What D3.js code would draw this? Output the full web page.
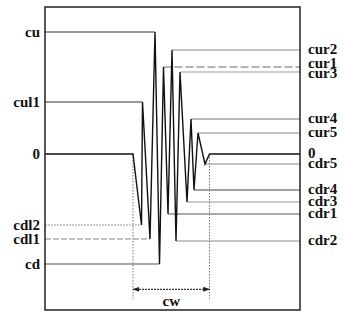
<!DOCTYPE html>
<html>
<head>
<meta charset="utf-8">
<script src="https://cdn.jsdelivr.net/npm/d3@7"></script>
<style>
  html, body { margin: 0; padding: 0; background: #fff; }
  svg { display: block; }
</style>
</head>
<body>
<svg id="chart" width="344" height="313"></svg>
<script>
// ---- data (arbitrary amplitude / time units) ----
const leftLabels  = ["cu", "cul1", "0", "cdl2", "cdl1", "cd"];
const leftValues  = [122, 52, 0, -71, -85, -110];
const rightLabels = ["cur2", "cur1", "cur3", "cur4", "cur5", "0", "cdr5", "cdr4", "cdr3", "cdr1", "cdr2"];
const rightValues = [104, 87, 82, 35, 21, 0, -10, -36, -48, -60, -87];
const waveTimes   = [0, 88, 96.5, 97.5, 105, 110, 114.5, 118.5, 123, 127, 131, 135, 142, 146, 149, 153, 160, 164.5, 255];
const waveValues  = [0, 0, -71, 52, -85, 122, -110, 87, -60, 104, -87, 82, -48, 35, -36, 21, -10, 0, 0];
const spanLabel   = "cw";

// ---- layout ----
const svg = d3.select("#chart");
const frame = { left: 45, right: 300, top: 7, bottom: 310 };
const x = d3.scaleLinear().domain([0, 255]).range([frame.left, frame.right]);
const y = d3.scaleLinear().domain([-150, 150]).range([304, 4]);
const font = "'Liberation Serif', 'Times New Roman', serif";

const styleOf = {
  "cu":   { c: "#333", d: null },
  "cul1": { c: "#333", d: null },
  "cdl2": { c: "#999", d: "2,1" },
  "cdl1": { c: "#888", d: "6,2" },
  "cd":   { c: "#555", d: null },
  "cur2": { c: "#888", d: null },
  "cur1": { c: "#666", d: "8,3" },
  "cur3": { c: "#999", d: null },
  "cur4": { c: "#777", d: null },
  "cur5": { c: "#888", d: null },
  "cdr5": { c: "#888", d: null },
  "cdr4": { c: "#444", d: null },
  "cdr3": { c: "#999", d: null },
  "cdr1": { c: "#555", d: null },
  "cdr2": { c: "#888", d: null }
};

// time where the wave reaches a level
function peakTime(v, fromRight) {
  const idx = d3.range(waveValues.length).filter(i => waveValues[i] === v);
  return waveTimes[fromRight ? idx[idx.length - 1] : idx[0]];
}

// reference lines (left levels: from frame to peak)
leftLabels.forEach((lab, i) => {
  if (lab === "0") return;
  const v = leftValues[i], t = peakTime(v, false), s = styleOf[lab];
  svg.append("line")
    .attr("x1", x(0)).attr("x2", x(t))
    .attr("y1", y(v)).attr("y2", y(v))
    .attr("stroke", s.c).attr("stroke-width", 1)
    .attr("stroke-dasharray", s.d);
});
// right levels: from peak to frame
rightLabels.forEach((lab, i) => {
  if (lab === "0") return;
  const v = rightValues[i], t = peakTime(v, true), s = styleOf[lab];
  svg.append("line")
    .attr("x1", x(t)).attr("x2", x(255))
    .attr("y1", y(v)).attr("y2", y(v))
    .attr("stroke", s.c).attr("stroke-width", 1)
    .attr("stroke-dasharray", s.d);
});

// vertical dotted markers and the span arrow
const tStart = waveTimes[1], tEnd = waveTimes[waveTimes.length - 2];
[tStart, tEnd].forEach(t => {
  svg.append("line")
    .attr("x1", x(t)).attr("x2", x(t))
    .attr("y1", y(0)).attr("y2", y(-145))
    .attr("stroke", "#777").attr("stroke-width", 1)
    .attr("stroke-dasharray", "1.5,1.5");
});

const defs = svg.append("defs");
defs.append("marker").attr("id", "arr")
  .attr("viewBox", "0 0 10 10").attr("refX", 9).attr("refY", 5)
  .attr("markerWidth", 7).attr("markerHeight", 7)
  .attr("markerUnits", "userSpaceOnUse")
  .attr("orient", "auto-start-reverse")
  .append("path").attr("d", "M0,1.5 L10,5 L0,8.5 Z").attr("fill", "#222");

const arrowY = y(-135.3);
svg.append("line")
  .attr("x1", x(tStart)).attr("x2", x(tEnd))
  .attr("y1", arrowY).attr("y2", arrowY)
  .attr("stroke", "#333").attr("stroke-width", 1.2)
  .attr("stroke-dasharray", "2,1")
  .attr("marker-start", "url(#arr)").attr("marker-end", "url(#arr)");

svg.append("text")
  .attr("x", (x(tStart) + x(tEnd)) / 2).attr("y", arrowY + 11.5)
  .attr("text-anchor", "middle").attr("dominant-baseline", "central")
  .attr("font-family", font).attr("font-weight", "bold").attr("font-size", 15)
  .attr("fill", "#111").text(spanLabel);

// waveform
svg.append("path")
  .datum(d3.zip(waveTimes, waveValues))
  .attr("d", d3.line().x(d => x(d[0])).y(d => y(d[1])))
  .attr("fill", "none").attr("stroke", "#111").attr("stroke-width", 1.4)
  .attr("stroke-linejoin", "miter");

// frame
svg.append("rect")
  .attr("x", frame.left).attr("y", frame.top)
  .attr("width", frame.right - frame.left).attr("height", frame.bottom - frame.top)
  .attr("fill", "none").attr("stroke", "#222").attr("stroke-width", 1.5);

// labels with simple collision avoidance
function spread(ys, minGap) {
  const out = ys.slice();
  for (let k = 0; k < 5; k++) {
    for (let i = 1; i < out.length; i++) {
      const g = out[i] - out[i - 1];
      if (g < minGap) {
        const push = (minGap - g) / 2;
        out[i - 1] -= push; out[i] += push;
      }
    }
  }
  return out;
}
const leftY = spread(leftValues.map(v => y(v)), 11);
leftLabels.forEach((lab, i) => {
  svg.append("text")
    .attr("x", 40).attr("y", leftY[i] - 0.5)
    .attr("text-anchor", "end").attr("dominant-baseline", "central")
    .attr("font-family", font).attr("font-weight", "bold").attr("font-size", 15)
    .attr("fill", "#111").text(lab);
});
const rightY = spread(rightValues.map(v => y(v)), 10);
rightLabels.forEach((lab, i) => {
  svg.append("text")
    .attr("x", 308).attr("y", rightY[i] - 1.5)
    .attr("text-anchor", "start").attr("dominant-baseline", "central")
    .attr("font-family", font).attr("font-weight", "bold").attr("font-size", 15)
    .attr("fill", "#111").text(lab);
});
</script>
</body>
</html>
